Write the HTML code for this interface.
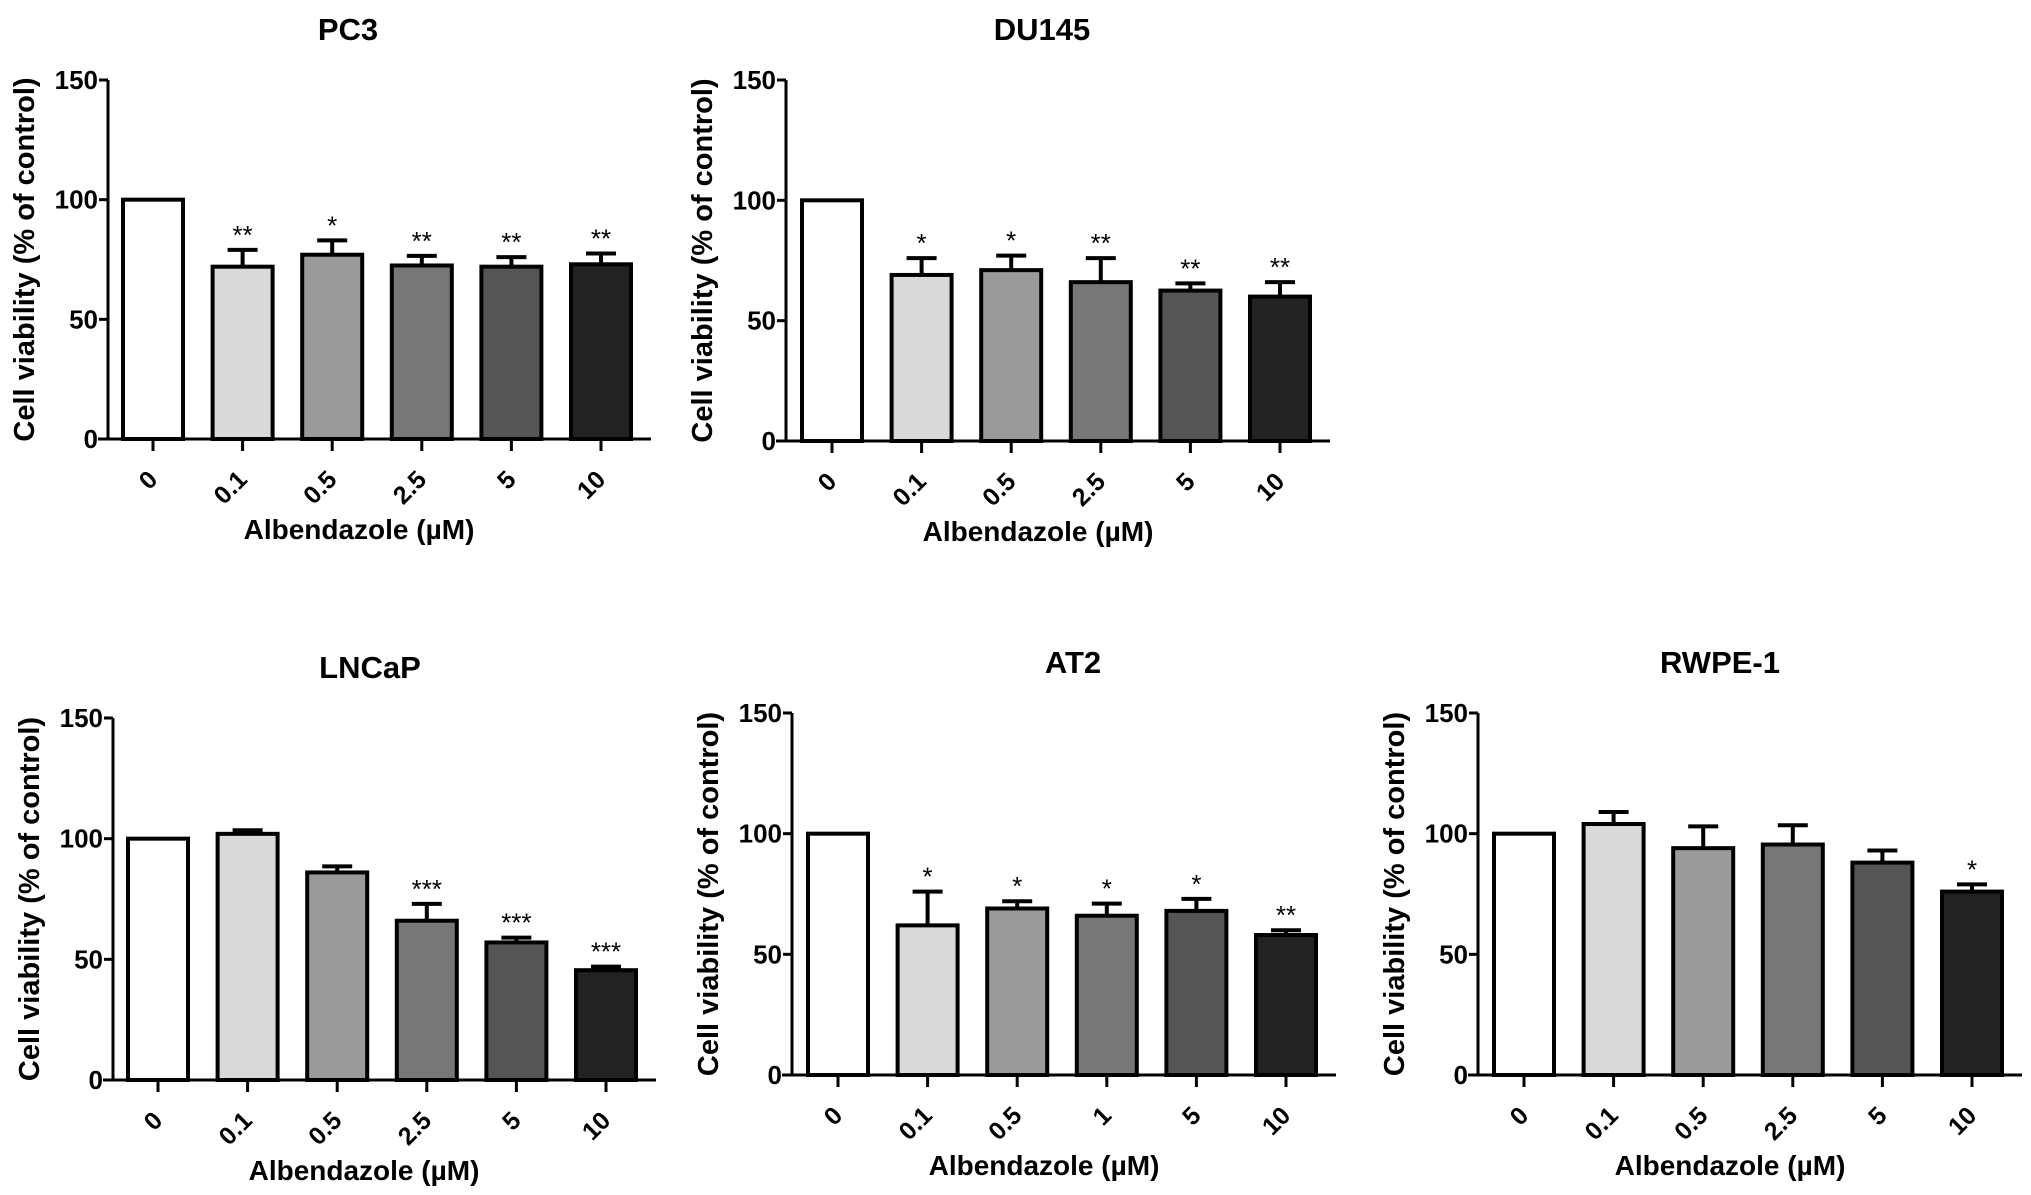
<!DOCTYPE html>
<html><head><meta charset="utf-8"><style>
html,body{margin:0;padding:0;background:#fff;}
svg{display:block;font-family:"Liberation Sans",Arial,sans-serif;font-weight:bold;}
</style></head><body>
<svg id="fig" width="2031" height="1195" viewBox="0 0 2031 1195"></svg>
<script>
const pc3Values=[100,72,77,72.5,72,73];
const pc3Errors=[0,7,6,4,4,4.5];
const pc3Sig=["","**","*","**","**","**"];
const du145Values=[100,69,71,66,62.5,60];
const du145Errors=[0,7,6,10,3,6];
const du145Sig=["","*","*","**","**","**"];
const lncapValues=[100,102,86,66,57,45.5];
const lncapErrors=[0,1.5,2.5,7,2,1.5];
const lncapSig=["","","","***","***","***"];
const at2Values=[100,62,69,66,68,58];
const at2Errors=[0,14,3,5,5,2];
const at2Sig=["","*","*","*","*","**"];
const rwpeValues=[100,104,94,95.5,88,76];
const rwpeErrors=[0,5,9,8,5,3];
const rwpeSig=["","","","","","*"];
const doseLabels=["0","0.1","0.5","2.5","5","10"];
const at2DoseLabels=["0","0.1","0.5","1","5","10"];
const yTicks=[0,50,100,150];

const fills=["#ffffff","#d9d9d9","#9a9a9a","#777777","#555555","#222222"];
const NS="http://www.w3.org/2000/svg";
const svg=document.getElementById('fig');
function mk(tag,attrs,parent,text){const e=document.createElementNS(NS,tag);for(const k in attrs)e.setAttribute(k,attrs[k]);if(text!==undefined)e.textContent=text;(parent||svg).appendChild(e);return e;}

function panel(key,title,titleX,ax,yTop,y0,c0,values,errors,sig,labels){
  const g=mk('g',{});
  
  
  const pitch=89.6,bw=60;
  const ys=v=>y0-(v/150)*(y0-yTop);
  const xs=i=>c0+i*pitch;
  const xEnd=xs(5)+bw/2+20;
  const t=mk('text',{x:titleX,y:yTop-40,'text-anchor':'middle','font-size':31},g,title);
  
  
  values.forEach((v,i)=>{
    const r=mk('rect',{x:xs(i)-bw/2,y:ys(v),width:bw,height:y0-ys(v),fill:fills[i],stroke:'#000','stroke-width':4},g);
    
    
    if(errors[i]>0){
      const e=mk('path',{d:`M${xs(i)},${ys(v)} V${ys(v+errors[i])} M${xs(i)-15},${ys(v+errors[i])} H${xs(i)+15}`,stroke:'#000','stroke-width':4,fill:'none'},g);
      
      
    }
    if(sig[i]){
      const s=mk('text',{x:xs(i),y:ys(v+errors[i])-6,'text-anchor':'middle','font-size':26,'font-weight':'normal'},g,sig[i]);
      
      
    }
    const tk=mk('line',{x1:xs(i),x2:xs(i),y1:y0,y2:y0+12,stroke:'#000','stroke-width':3},g);
    
    
    const lx=xs(i)+6,ly=y0+42;
    const tl=mk('text',{x:lx,y:ly,'text-anchor':'end','font-size':25,transform:`rotate(-45 ${lx} ${ly})`},g,labels[i]);
    
    
  });
  const ya=mk('line',{x1:ax,x2:ax,y1:yTop,y2:y0,stroke:'#000','stroke-width':3},g);
  
  
  const xa=mk('line',{x1:ax-10,x2:xEnd,y1:y0,y2:y0,stroke:'#000','stroke-width':3},g);
  
  
  yTicks.forEach(v=>{
    const l=mk('line',{x1:ax-9,x2:ax,y1:ys(v),y2:ys(v),stroke:'#000','stroke-width':3},g);
    
    
    const tx=mk('text',{x:ax-10,y:ys(v)+9,'text-anchor':'end','font-size':26},g,String(v));
    
    
  });
  const cy=(yTop+y0)/2, cx=ax-74;
  const yl=mk('text',{x:cx,y:cy,'text-anchor':'middle','font-size':29,transform:`rotate(-90 ${cx} ${cy})`},g,'Cell viability (%  of control)');
  
  
  const xl=mk('text',{x:(xs(0)+xs(5))/2-18,y:y0+100,'text-anchor':'middle','font-size':28},g,'Albendazole (\u00b5M)');
  
  
}
panel('pc3','PC3',348,108,80,439,153,pc3Values,pc3Errors,pc3Sig,doseLabels);
panel('du145','DU145',1042,786,80,441,832,du145Values,du145Errors,du145Sig,doseLabels);
panel('lncap','LNCaP',370,113,718,1080,158,lncapValues,lncapErrors,lncapSig,doseLabels);
panel('at2','AT2',1073,792,713,1075,838,at2Values,at2Errors,at2Sig,at2DoseLabels);
panel('rwpe1','RWPE-1',1720,1478,713,1075,1524,rwpeValues,rwpeErrors,rwpeSig,doseLabels);
</script>
</body></html>
